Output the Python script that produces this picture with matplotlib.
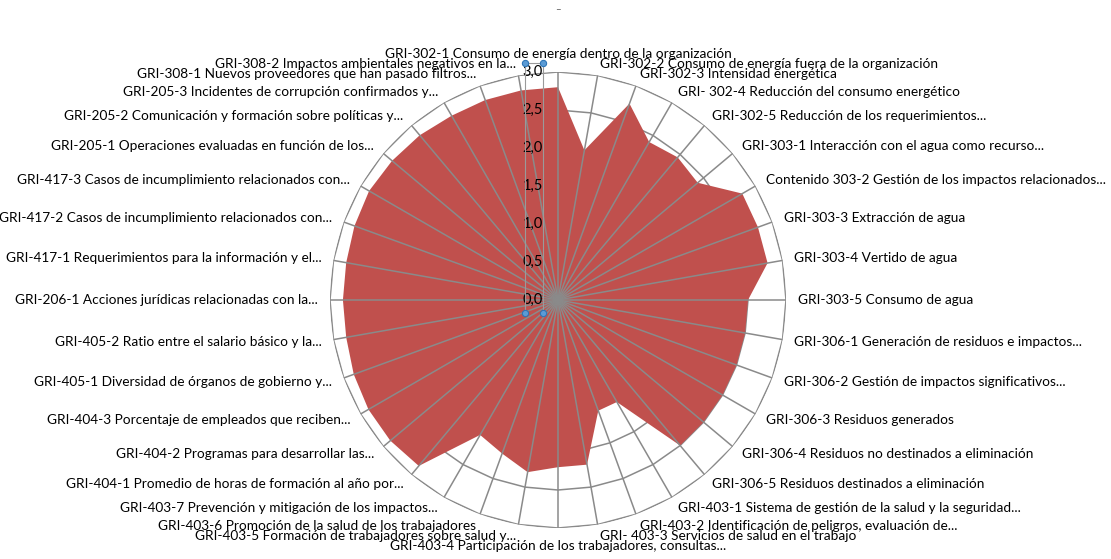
import numpy as np
import matplotlib
matplotlib.use("Agg")
import matplotlib.pyplot as plt
from matplotlib.lines import Line2D
from matplotlib.transforms import IdentityTransform

categories = [
    "GRI-302-1 Consumo de energía dentro de la organización",
    "GRI-302-2 Consumo de energía fuera de la organización",
    "GRI-302-3 Intensidad energética",
    "GRI- 302-4 Reducción del consumo energético",
    "GRI-302-5 Reducción de los requerimientos...",
    "GRI-303-1 Interacción con el agua como recurso...",
    "Contenido 303-2 Gestión de los impactos relacionados...",
    "GRI-303-3 Extracción de agua",
    "GRI-303-4 Vertido de agua",
    "GRI-303-5 Consumo de agua",
    "GRI-306-1 Generación de residuos e impactos...",
    "GRI-306-2 Gestión de impactos significativos...",
    "GRI-306-3 Residuos generados",
    "GRI-306-4 Residuos no destinados a eliminación",
    "GRI-306-5 Residuos destinados a eliminación",
    "GRI-403-1 Sistema de gestión de la salud y la seguridad...",
    "GRI-403-2 Identificación de peligros, evaluación de...",
    "GRI- 403-3 Servicios de salud en el trabajo",
    "GRI-403-4 Participación de los trabajadores, consultas...",
    "GRI-403-5 Formación de trabajadores sobre salud y...",
    "GRI-403-6 Promoción de la salud de los trabajadores",
    "GRI-403-7 Prevención y mitigación de los impactos...",
    "GRI-404-1 Promedio de horas de formación al año por...",
    "GRI-404-2 Programas para desarrollar las...",
    "GRI-404-3 Porcentaje de empleados que reciben...",
    "GRI-405-1 Diversidad de órganos de gobierno y...",
    "GRI-405-2 Ratio entre el salario básico y la...",
    "GRI-206-1 Acciones jurídicas relacionadas con la...",
    "GRI-417-1 Requerimientos para la información y el...",
    "GRI-417-2 Casos de incumplimiento relacionados con...",
    "GRI-417-3 Casos de incumplimiento relacionados con...",
    "GRI-205-1 Operaciones evaluadas en función de los...",
    "GRI-205-2 Comunicación y formación sobre políticas y...",
    "GRI-205-3 Incidentes de corrupción confirmados y...",
    "GRI-308-1 Nuevos proveedores que han pasado filtros...",
    "GRI-308-2 Impactos ambientales negativos en la...",
]

values = [
    2.8, 2.0, 2.75, 2.4, 2.45, 2.4, 2.8, 2.8, 2.8, 2.5,
    2.5, 2.5, 2.5, 2.5, 2.5, 1.55, 1.55, 2.2, 2.2, 2.3,
    2.15, 2.05, 2.85, 2.88, 2.88, 2.86, 2.83, 2.83, 2.83, 2.85,
    2.87, 2.85, 2.83, 2.8, 2.8, 2.8,
]

ring_values = [0.5, 1.0, 1.5, 2.0, 2.5, 3.0]
tick_values = [0.0, 0.5, 1.0, 1.5, 2.0, 2.5, 3.0]
tick_labels = ["0,0", "0,5", "1,0", "1,5", "2,0", "2,5", "3,0"]

FILL = "#C0504D"
GRID = "#8a8a8a"
FONT = "Lato"

W, H = 1111, 559
fig = plt.figure(figsize=(W / 100, H / 100), dpi=100)
fig.patch.set_facecolor("white")

cx, cy, R = 558, 300, 228
ax = fig.add_axes([(cx - R) / W, (H - cy - R) / H, 2 * R / W, 2 * R / H],
                  projection="polar")
ax.set_theta_zero_location("N")
ax.set_theta_direction(-1)
ax.set_ylim(0, 3.0)
ax.grid(False)
ax.set_xticks([])
ax.set_yticks([])
ax.spines["polar"].set_visible(False)
ax.patch.set_alpha(0)

n = len(categories)
theta = np.arange(n) * 2 * np.pi / n
theta_c = np.append(theta, theta[0])

# value rings (polygons), beneath the fill
for rv in ring_values:
    ax.plot(theta_c, [rv] * (n + 1), color=GRID, lw=1.1, zorder=1,
            solid_joinstyle="miter")

vals_c = np.append(values, values[0])
ax.fill(theta_c, vals_c, color=FILL, zorder=2, lw=0)

# spokes above fill
for t in theta:
    ax.plot([t, t], [0, 3.0], color=GRID, lw=1.1, zorder=3)

# category labels
fig.canvas.draw()
for t, lab in zip(theta, categories):
    s, c = np.sin(t), np.cos(t)
    if abs(s) < 0.05:
        ha = "center"
    elif s > 0:
        ha = "left"
    else:
        ha = "right"
    if c > 0.99:
        va = "bottom"
    elif c < -0.99:
        va = "top"
    else:
        va = "center"
    off = 12
    ax.annotate(lab, xy=(t, 3.0), xytext=(off * s, off * c),
                textcoords="offset pixels", ha=ha, va=va,
                fontsize=9.8, family=FONT, color="black",
                annotation_clip=False, zorder=5)

# radial tick labels
for tv, tl in zip(tick_values, tick_labels):
    ax.annotate(tl, xy=(0, tv), xytext=(-15, 0), textcoords="offset pixels",
                ha="right", va="center", fontsize=10.5, family=FONT,
                color="black", annotation_clip=False, zorder=6)

# selection box around axis labels (screenshot artifact)
p0 = ax.transData.transform((0, 0.0))
p3 = ax.transData.transform((0, 3.0))
x_left = p0[0] - 33
x_right = p0[0] - 15
y_top = p3[1] + 9
y_bot = p0[1] - 13
for xs, ys in [([x_left, x_left], [y_top, y_bot]),
               ([x_right, x_right], [y_top, y_bot]),
               ([x_left, x_right], [y_top, y_top])]:
    fig.add_artist(Line2D(xs, ys, transform=IdentityTransform(),
                          color="#9a9a9a", lw=0.8, zorder=7))
for hx, hy in [(x_left, y_top), (x_right, y_top), (x_left, y_bot), (x_right, y_bot)]:
    fig.add_artist(Line2D([hx], [hy], transform=IdentityTransform(),
                          marker="o", ms=4.5, mfc="#5b9bd5", mec="#2e75b6",
                          mew=0.8, zorder=8))

fig.text(0.502, 0.982, "–", ha="center", va="center", fontsize=7,
         color="#555555", family=FONT)

fig.savefig("out.png", dpi=100, facecolor="white")
